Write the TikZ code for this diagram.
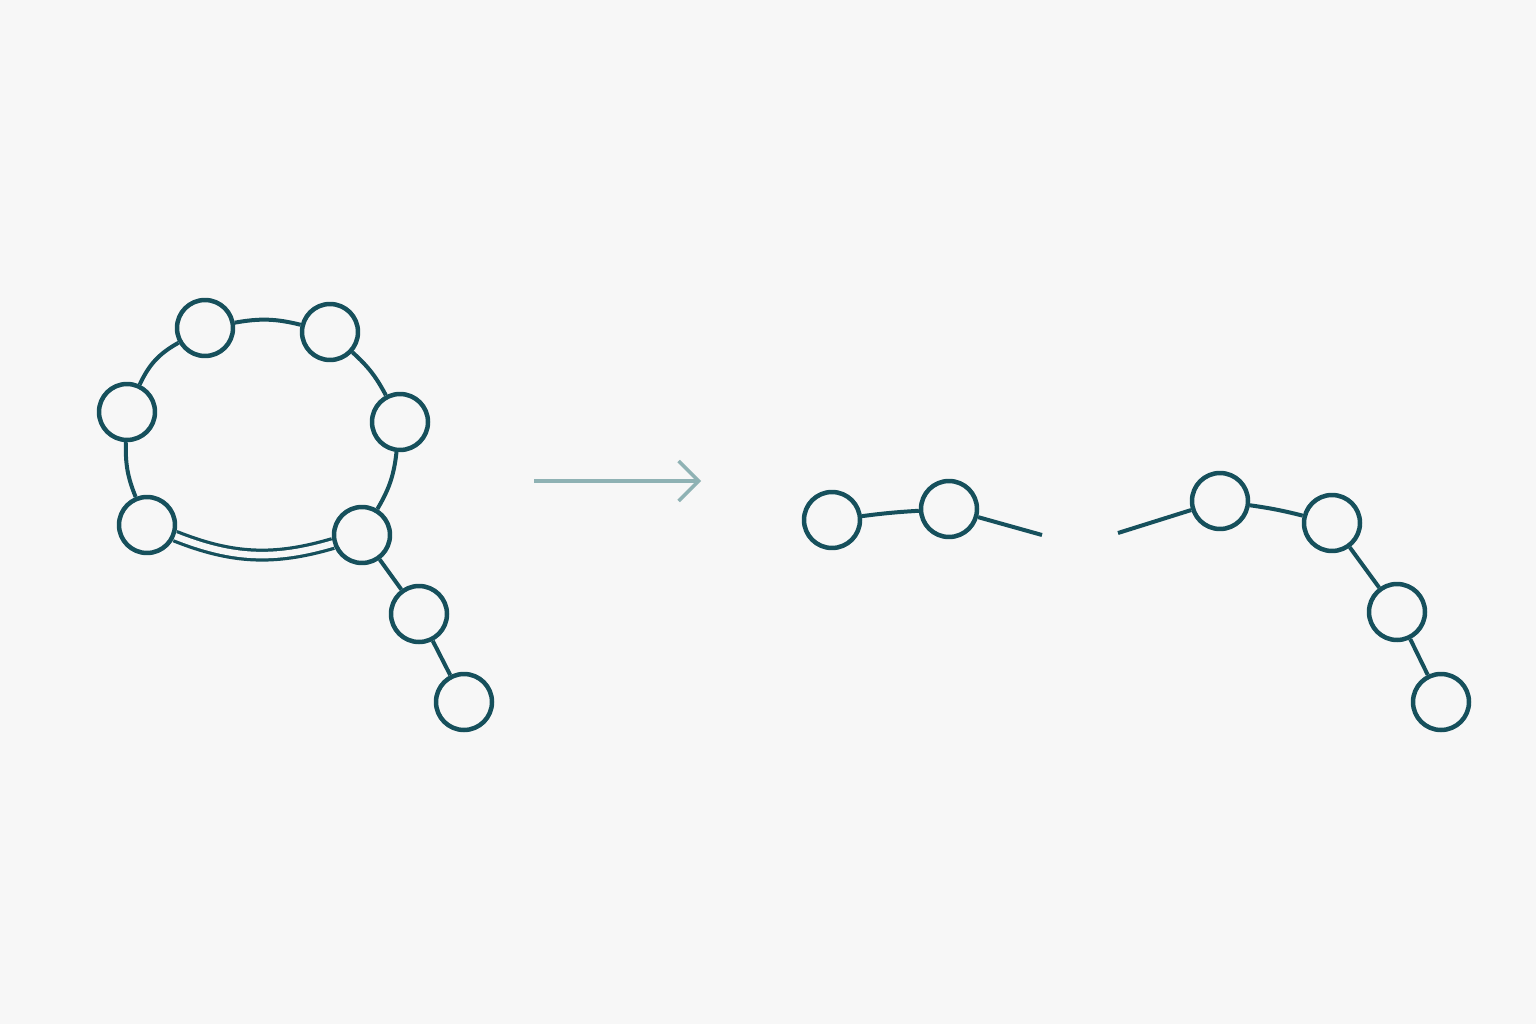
\documentclass[tikz,border=0pt]{standalone}
\usepackage{tikz}
\usetikzlibrary{arrows.meta}
\definecolor{bgcol}{HTML}{F7F7F7}
\definecolor{teal}{HTML}{16505C}
\definecolor{arrcol}{HTML}{8FB2B4}
\tikzstyle{res}=[circle, draw=teal, fill=bgcol, line width=0.09cm, minimum size=1.12cm, inner sep=0pt]
\tikzstyle{bb}=[draw=teal, line width=0.08cm]
\tikzstyle{hb}=[draw=teal, line width=0.065cm, double=bgcol, double distance=0.13cm]

\begin{document}
\begin{tikzpicture}[x=0.02cm, y=-0.02cm]
\fill[bgcol] (0,0) rectangle (1536,1024);
\useasboundingbox (0,0) rectangle (1536,1024);
% hairpin
\node[res] (a1) at (127,412) {};
\node[res] (a2) at (205,328) {};
\node[res] (a3) at (330,332) {};
\node[res] (a4) at (400,422) {};
\node[res] (a5) at (362,535) {};
\node[res] (a6) at (147,525) {};
\node[res] (a7) at (419,614) {};
\node[res] (a8) at (464,702) {};
\draw[bb] (a1) to[bend left=18] (a2);
\draw[bb] (a2) to[bend left=12] (a3);
\draw[bb] (a3) to[bend left=10] (a4);
\draw[bb] (a4) to[bend left=12] (a5);
\draw[hb] (a5) to[bend left=19] (a6);
\draw[bb] (a6) to[bend left=12] (a1);
\draw[bb] (a5) -- (a7);
\draw[bb] (a7) -- (a8);
% arrow
\coordinate (p0) at (534,481);
\coordinate (p1) at (701,481);
\draw[arrcol, line width=0.07cm, -{Straight Barb[length=0.4cm, width=0.8cm, line width=0.07cm]}] (p0) -- (p1);
% opened chain
\node[res] (b1) at (832,520) {};
\node[res] (b2) at (949,509) {};
\node[res] (b3) at (1220,501) {};
\node[res] (b4) at (1332,523) {};
\node[res] (b5) at (1397,612) {};
\node[res] (b6) at (1441,702) {};
\coordinate (e1) at (1042,535);
\coordinate (e2) at (1118,533);
\draw[bb] (b1) to[bend left=2] (b2);
\draw[bb] (b2) -- (e1);
\draw[bb] (e2) -- (b3);
\draw[bb] (b3) to[bend left=3] (b4);
\foreach \i/\j in {4/5,5/6} {
	\draw[bb] (b\i) -- (b\j);
}
\end{tikzpicture}
\end{document}
